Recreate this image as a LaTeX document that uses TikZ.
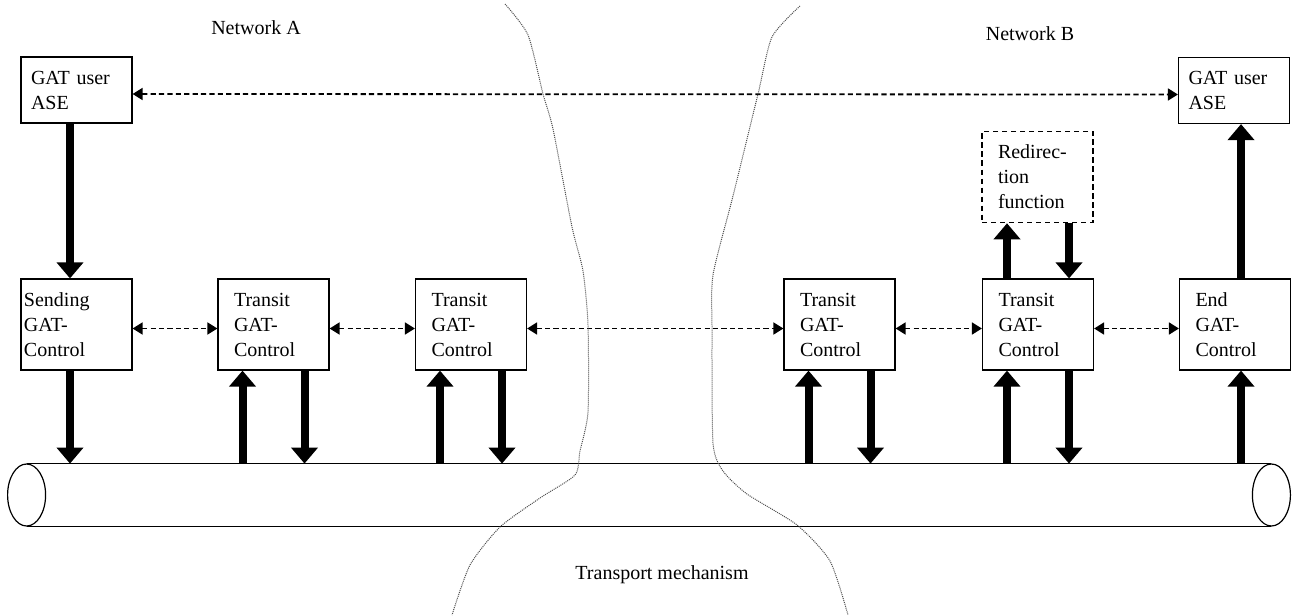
\documentclass[tikz,border=0pt]{standalone}
\usepackage{fontspec}
\setmainfont{Liberation Serif}
\usetikzlibrary{arrows.meta}

\begin{document}
\begin{tikzpicture}[x=0.5pt, y=-0.5pt,
            box/.style={draw, line width=0.6pt, align=left, text width=39.5pt,
                inner xsep=8pt, minimum height=45.5pt, font=\fontsize{10}{12.5}\selectfont},
            asebox/.style={box, text width=45.5pt, inner xsep=5pt, minimum height=33pt},
            sendbox/.style={box, text width=52.5pt, inner xsep=1.5pt},
            redirbox/.style={box, dash pattern=on 2.6pt off 1.9pt, line width=0.8pt},
            peer/.style={{Triangle[width=6pt,length=5pt]}-{Triangle[width=6pt,length=5pt]},
                line width=0.9pt, dash pattern=on 2.6pt off 1.6pt},
            flow/.style={-{Triangle[width=13pt,length=8pt]}, line width=4pt},
            border/.style={line width=0.5pt, gray!60!black, dash pattern=on 0.5pt off 0.5pt},
            label/.style={font=\fontsize{10}{12.5}\selectfont}]
    \useasboundingbox (0,0) rectangle (1293,615);
    % user parts and controls
    \node[asebox] (aseA) at (76.5,90) {GAT user\\ASE};
    \node[asebox] (aseB) at (1234,90.5) {GAT user\\ASE};
    \node[sendbox] (send) at (76.5,324.5) {Sending\\GAT-\\Control};
    \node[box] (tr1) at (273.5,324.5) {Transit\\GAT-\\Control};
    \node[box] (tr2) at (471,324.5) {Transit\\GAT-\\Control};
    \node[box] (tr3) at (839.5,324.5) {Transit\\GAT-\\Control};
    \node[box] (tr4) at (1038,324.5) {Transit\\GAT-\\Control};
    \node[box] (endc) at (1235,324.5) {End\\GAT-\\Control};
    \node[redirbox] (redir) at (1037.5,177) {Redirec-\\tion\\function};
    % the pipe
    \node[minimum width=622pt, minimum height=31pt, inner sep=0pt] (pipe) at (649,495) {};
    \draw[line width=0.6pt] (pipe.north west) -- (pipe.north east);
    \draw[line width=0.6pt] (pipe.south west) -- (pipe.south east);
    \draw[line width=0.6pt, fill=white] (pipe.west) ellipse [x radius=9.5pt, y radius=15.5pt];
    \draw[line width=0.6pt] (pipe.east) ellipse [x radius=9.5pt, y radius=15.5pt];
    % peer relations
    \draw[peer] ([yshift=-2pt]aseA.east) -- ([yshift=-2pt]aseB.west);
    \foreach \a/\b in {send/tr1, tr1/tr2, tr2/tr3, tr3/tr4, tr4/endc}
        \draw[peer] ([yshift=-2pt]\a.east) -- ([yshift=-2pt]\b.west);
    % primitives
    \coordinate (s1) at ([xshift=-3.25pt]send.north);
    \coordinate (s2) at ([xshift=-3.25pt]send.south);
    \draw[flow] (s1 |- aseA.south) -- (s1);
    \draw[flow] (s2) -- (s2 |- pipe.north);
    \foreach \n in {tr1,tr2,tr3,tr4} {
        \coordinate (up) at ([xshift=-15.5pt]\n.south);
        \coordinate (dn) at ([xshift=15.5pt]\n.south);
        \draw[flow] (up |- pipe.north) -- (up);
        \draw[flow] (dn) -- (dn |- pipe.north);
    }
    \coordinate (r1) at ([xshift=-15.5pt]tr4.north);
    \coordinate (r2) at ([xshift=15.5pt]tr4.north);
    \draw[flow] (r1) -- (r1 |- redir.south);
    \draw[flow] (r2 |- redir.south) -- (r2);
    \coordinate (e1) at ([xshift=3pt]endc.south);
    \draw[flow] (e1 |- pipe.north) -- (e1);
    \draw[flow] (e1 |- endc.north) -- (e1 |- aseB.south);
    % network borders
    \draw[border] plot[smooth, tension=0.4] coordinates {(505,4) (528,35) (543,94) (553,129)
        (572,227) (583,271) (588,325) (588,412) (580,451) (575,475) (540,498) (500,527)
        (470,565) (452,615)};
    \draw[border] plot[smooth, tension=0.4] coordinates {(800,6) (772,37) (758,94) (733,196)
        (713,275) (712,329) (713,443) (723,471) (747,494) (797,525) (830,561) (848,615)};
    % labels
    \node[label] (netA) at (256,28) {Network A};
    \node[label] (netB) at (1030,34) {Network B};
    \node[label] (trans) at (662,575) {Transport mechanism};
\end{tikzpicture}
\end{document}
